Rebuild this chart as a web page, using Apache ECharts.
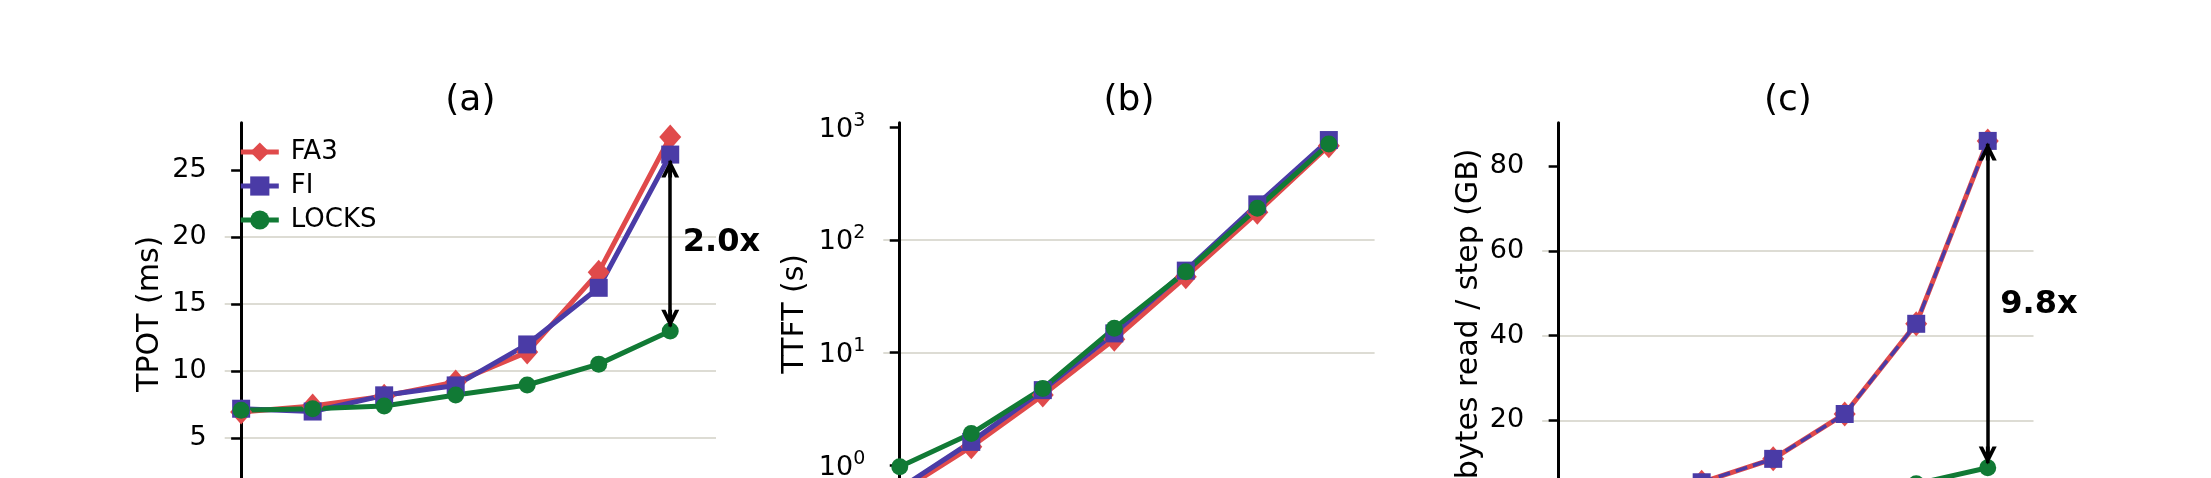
<!DOCTYPE html>
<html><head><meta charset="utf-8">
<script src="https://cdn.jsdelivr.net/npm/echarts@6/dist/echarts.min.js"></script>
<style>html,body{margin:0;padding:0;background:#fff;overflow:hidden;} #chart{width:2211px;height:560px;}</style>
</head><body><div id="chart"></div>
<script>
// ---- data ----
const xIndex = [0, 1, 2, 3, 4, 5, 6];
const seriesNames = ['FA3', 'FI', 'LOCKS'];
const panelTitles = ['(a)', '(b)', '(c)'];
const yNames = ['TPOT (ms)', 'TTFT (s)', 'bytes read / step (GB)'];

const tpotFA3   = [6.94, 7.39, 8.13, 9.18, 11.42, 17.39, 27.49];
const tpotFI    = [7.19, 6.98, 8.19, 8.93, 11.99, 16.22, 26.17];
const tpotLOCKS = [7.07, 7.19, 7.39, 8.21, 8.96, 10.52, 12.99];

const ttftFA3   = [0.58, 1.46, 4.19, 13.1, 47.1, 176, 687];
const ttftFI    = [0.62, 1.61, 4.64, 14.8, 53.4, 207, 771];
const ttftLOCKS = [0.97, 1.91, 4.80, 16.4, 52.2, 191, 711];

const bytesFA3   = [1.34, 2.69, 5.37, 10.9, 21.5, 42.8, 86.0];
const bytesFI    = [1.34, 2.69, 5.37, 10.9, 21.5, 42.8, 86.0];
const bytesLOCKS = [1.0, 1.3, 1.8, 2.2, 3.1, 5.0, 8.8];

const tpotTicks  = [0, 5, 10, 15, 20, 25];
const ttftTicks  = [1, 10, 100, 1000];
const bytesTicks = [0, 20, 40, 60, 80];

// ---- style ----
const FONT = 'DejaVu Sans';
const C = { FA3: '#e04a4b', FI: '#4a3ba6', LOCKS: '#117a35' };
const GRID_COLOR = '#dddcd4';
const gridLefts = [224.7, 883.3, 1542.2];
const gridWidth = 491.3;
const gridTop = 122.7;
const gridBottomY = 505;
const H = 560;
const LW = 5;
const ARROW = 18;

const arrowPath = 'path://M0,0L8.5,15L4.48,15L0,7.1L-4.48,15L-8.5,15Z M-1.75,1L1.75,1L1.75,15L-1.75,15Z';

function pairs(arr) { return xIndex.map((x, i) => [x, arr[i]]); }

function yAxisBase(gi, name, nameGap, ticks, fmt) {
  return {
    gridIndex: gi,
    name: name, nameLocation: 'middle', nameGap: nameGap,
    nameTextStyle: { fontSize: 30, color: '#000', fontFamily: FONT },
    axisLine: { show: true, lineStyle: { color: '#000', width: 3 } },
    axisTick: { show: true, length: 10, lineStyle: { color: '#000', width: 2.5 }, customValues: ticks },
    axisLabel: { fontSize: 27, color: '#000', fontFamily: FONT, margin: 18, customValues: ticks,
                 formatter: fmt, showMinLabel: true, showMaxLabel: true },
    splitLine: { show: true, showMinLine: false, showMaxLine: false, lineStyle: { color: GRID_COLOR, width: 2 } }
  };
}

function lineSeries(name, gi, arr, extra) {
  const sym = { FA3: ['diamond', [22, 25]], FI: ['rect', 18], LOCKS: ['circle', 17] }[name];
  return Object.assign({
    type: 'line', name: name, xAxisIndex: gi, yAxisIndex: gi,
    data: pairs(arr), symbol: sym[0], symbolSize: sym[1], showAllSymbol: true,
    lineStyle: { color: C[name], width: LW }, itemStyle: { color: C[name], borderWidth: 0 },
    emphasis: { disabled: true }, animation: false, clip: true
  }, extra || {});
}

function ratioMarkers(topVal, botVal) {
  const ratio = (topVal / botVal).toFixed(1) + 'x';
  return {
    markLine: {
      silent: true, animation: false,
      symbol: [arrowPath, arrowPath], symbolSize: [ARROW, ARROW],
      lineStyle: { color: '#000', width: 3.5, type: 'solid' },
      label: { show: false },
      data: [[{ coord: [xIndex[6], topVal] }, { coord: [xIndex[6], botVal] }]]
    },
    markPoint: {
      silent: true, animation: false,
      symbol: 'circle', symbolSize: 1, itemStyle: { color: 'rgba(0,0,0,0)' },
      label: { show: true, position: 'right', distance: 12, formatter: ratio,
               fontSize: 32, fontWeight: 'bold', color: '#000', fontFamily: FONT },
      data: [{ coord: [xIndex[6], (topVal + botVal) / 2] }]
    }
  };
}

const grids = gridLefts.map(l => ({ left: l, top: gridTop, width: gridWidth, height: gridBottomY - gridTop, outerBoundsMode: 'none', containLabel: false }));
const xAxes = gridLefts.map((l, i) => ({ type: 'value', gridIndex: i, min: -0.23, max: 6.64, show: false }));

const yA = Object.assign(yAxisBase(0, yNames[0], 59, tpotTicks), { type: 'value', min: 0, max: 28.55, interval: 5 });
const yB = Object.assign(yAxisBase(1, yNames[1], 73, ttftTicks, v => '{b|10}{s|' + Math.round(Math.log10(v)) + '}'),
  { type: 'log', logBase: 10, min: 0.443, max: 1099 });
yB.axisLabel.rich = {
  b: { fontSize: 27, color: '#000', fontFamily: FONT, lineHeight: 32, verticalAlign: 'bottom' },
  s: { fontSize: 19, color: '#000', fontFamily: FONT, lineHeight: 32, verticalAlign: 'top' }
};
const yC = Object.assign(yAxisBase(2, yNames[2], 58, bytesTicks), { type: 'value', min: 0, max: 90.3, interval: 20 });

const titleCenters = gridLefts.map(l => l + gridWidth / 2);

const option = {
  animation: false,
  backgroundColor: '#fff',
  title: panelTitles.map((t, i) => ({
    text: t, left: titleCenters[i], top: 83, textAlign: 'center', padding: 0,
    textStyle: { fontSize: 36, fontWeight: 'normal', color: '#000', fontFamily: FONT }
  })),
  legend: {
    data: seriesNames, orient: 'vertical', left: 238.3, top: 139, padding: 0,
    itemWidth: 38, itemHeight: 24, itemGap: 8, selectedMode: false,
    lineStyle: { width: LW },
    textStyle: { fontSize: 26, color: '#000', fontFamily: FONT, padding: [0, 0, 0, 7], lineHeight: 26 }
  },
  grid: grids,
  xAxis: xAxes,
  yAxis: [yA, yB, yC],
  series: [
    lineSeries('FA3', 0, tpotFA3),
    lineSeries('FI', 0, tpotFI),
    lineSeries('LOCKS', 0, tpotLOCKS, ratioMarkers(tpotFI[6], tpotLOCKS[6])),
    lineSeries('FA3', 1, ttftFA3),
    lineSeries('FI', 1, ttftFI),
    lineSeries('LOCKS', 1, ttftLOCKS),
    lineSeries('FA3', 2, bytesFA3, { lineStyle: { color: C.FA3, width: 5 } }),
    lineSeries('FI', 2, bytesFI, { lineStyle: { color: C.FI, width: 3.5, type: [12, 6] } }),
    lineSeries('LOCKS', 2, bytesLOCKS, ratioMarkers(bytesFI[6], bytesLOCKS[6]))
  ]
};

const chart = echarts.init(document.getElementById('chart'), null, { renderer: 'canvas', width: 2211, height: H });
chart.setOption(option);

// Shrink the double arrows a few pixels away from the markers (like matplotlib's shrinkA/B),
// converting through the axes' own scales.
function arrowData(gi, topVal, botVal, topGap, botGap) {
  const x = xIndex[6];
  const pTop = chart.convertToPixel({ gridIndex: gi }, [x, topVal]);
  const pBot = chart.convertToPixel({ gridIndex: gi }, [x, botVal]);
  const vTop = chart.convertFromPixel({ gridIndex: gi }, [pTop[0], pTop[1] + topGap + ARROW / 2])[1];
  const vBot = chart.convertFromPixel({ gridIndex: gi }, [pBot[0], pBot[1] - botGap - ARROW / 2])[1];
  return [[{ coord: [x, vTop] }, { coord: [x, vBot] }]];
}
const upd = option.series.map(() => ({}));
upd[2] = { markLine: { data: arrowData(0, tpotFI[6], tpotLOCKS[6], 5, 3.4) } };
upd[8] = { markLine: { data: arrowData(2, bytesFI[6], bytesLOCKS[6], 1.6, 3.3) } };
chart.setOption({ series: upd });
</script>
</body></html>
